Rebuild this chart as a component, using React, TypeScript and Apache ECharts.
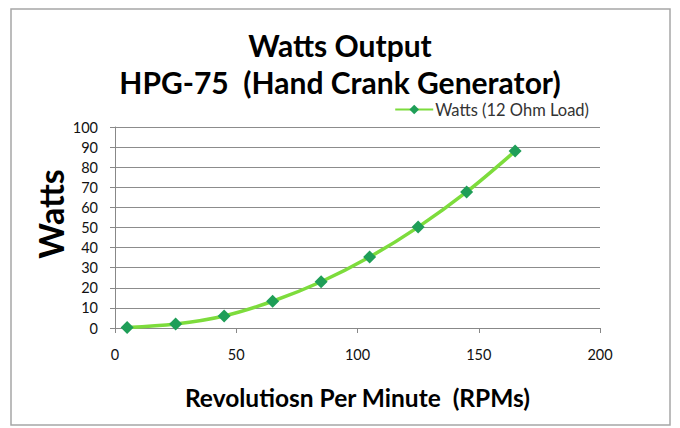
import React, { useEffect, useRef } from "react";
import * as echarts from "echarts";

const rpm = [5, 25, 45, 65, 85, 105, 125, 145, 165];
const watts = [0.3, 2, 6, 13.3, 23, 35.3, 50.2, 67.7, 88];
const titleLines = ["Watts Output", "HPG-75  (Hand Crank Generator)"];
const seriesName = "Watts (12 Ohm Load)";
const xName = "Revolutiosn Per Minute  (RPMs)";
const yName = "Watts";

const FONT = "Lato, 'Open Sans', sans-serif";

export default function App() {
  const ref = useRef<HTMLDivElement>(null);
  useEffect(() => {
    document.body.style.margin = "0";
    const chart = echarts.init(ref.current!, null, { renderer: "svg" });
    chart.setOption({
      animation: false,
      backgroundColor: "#ffffff",
      textStyle: { fontFamily: FONT },
      title: {
        text: titleLines.join("\n"),
        left: "center",
        top: 21,
        textStyle: {
          fontFamily: FONT,
          fontSize: 30,
          fontWeight: "bold",
          color: "#000",
          lineHeight: 37,
        },
      },
      graphic: [
        {
          type: "rect",
          shape: { x: 11, y: 9, width: 659, height: 416 },
          style: { fill: "none", stroke: "#a6a6a6", lineWidth: 1.5 },
          silent: true,
        },
        {
          type: "text",
          x: 50,
          y: 214,
          rotation: Math.PI / 2,
          style: {
            text: yName,
            fontFamily: FONT,
            fontSize: 34,
            fontWeight: "bold",
            fill: "#000",
            align: "center",
            verticalAlign: "middle",
          },
          silent: true,
        },
      ],
      legend: {
        right: 86,
        top: 96,
        itemWidth: 38,
        itemHeight: 12,
        itemGap: 4,
        textStyle: { fontFamily: FONT, fontSize: 16.5, color: "#333", padding: [0, 0, 0, -3] },
        data: [{ name: seriesName }],
      },
      grid: { left: 115, right: 80, top: 127, bottom: 100, containLabel: false },
      xAxis: {
        type: "value",
        min: 0,
        max: 200,
        interval: 50,
        name: xName,
        nameLocation: "middle",
        nameGap: 57,
        nameTextStyle: { fontFamily: FONT, fontSize: 24.5, fontWeight: "bold", color: "#000" },
        axisLine: { show: true, lineStyle: { color: "#888", width: 1 } },
        axisTick: { show: true, length: 5, lineStyle: { color: "#888" } },
        axisLabel: { fontFamily: FONT, fontSize: 14.5, color: "#111", margin: 19 },
        splitLine: { show: false },
      },
      yAxis: {
        type: "value",
        min: 0,
        max: 100,
        interval: 10,
        axisLine: { show: true, lineStyle: { color: "#888", width: 1 } },
        axisTick: { show: true, length: 5, lineStyle: { color: "#888" } },
        axisLabel: { fontFamily: FONT, fontSize: 14.5, color: "#111", margin: 17 },
        splitLine: { show: true, lineStyle: { color: "#8c8c8c", width: 1 } },
      },
      series: [
        {
          name: seriesName,
          type: "line",
          data: rpm.map((x, i) => [x, watts[i]]),
          smooth: 0.35,
          symbol: "diamond",
          symbolSize: 13,
          lineStyle: { color: "#7ddc3c", width: 3.5 },
          itemStyle: { color: "#1f9e58", borderWidth: 0 },
          z: 3,
        },
      ],
    });
    return () => chart.dispose();
  }, []);
  return <div ref={ref} style={{ width: 680, height: 428 }} />;
}
